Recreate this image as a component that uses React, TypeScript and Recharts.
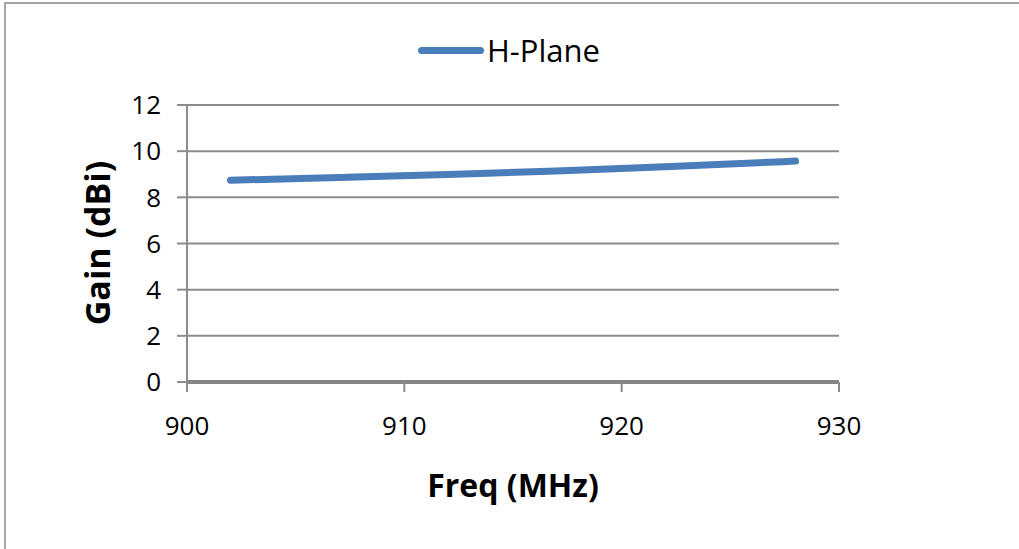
import { LineChart, Line, XAxis, YAxis, CartesianGrid } from "recharts";

// frequency (MHz) and H-plane gain (dBi)
const FREQS = [902, 907, 912, 917, 922, 928];
const GAIN = [8.74, 8.86, 8.99, 9.14, 9.32, 9.57];
const X_TICKS = [900, 910, 920, 930];
const Y_TICKS = [0, 2, 4, 6, 8, 10, 12];

const data = FREQS.map((f, i) => ({ freq: f, gain: GAIN[i] }));

const FONT = "'Open Sans', 'DejaVu Sans', sans-serif";
const GRID = "#8c8c8c";
const BLUE = "#4a7ebb";

export default function App() {
    return (
        <div style={{ position: "absolute", left: 0, top: 0, width: 1019, height: 549, overflow: "hidden", background: "#fff", fontFamily: FONT }}>
            <div style={{ position: "absolute", left: 4, top: 2, width: 1040, height: 570, border: "2px solid #a6a6a6" }} />

            {/* legend */}
            <div style={{ position: "absolute", left: 418, top: 28, height: 44, display: "flex", alignItems: "center" }}>
                <span style={{ display: "inline-block", width: 66, height: 7, borderRadius: 4, background: BLUE }} />
                <span style={{ fontSize: 31, color: "#000", marginLeft: 3 }}>H-Plane</span>
            </div>

            {/* axis titles */}
            <div style={{ position: "absolute", left: 97, top: 243, transform: "translate(-50%, -50%) rotate(-90deg)", fontSize: 34, fontWeight: 700, whiteSpace: "nowrap" }}>
                Gain (dBi)
            </div>
            <div style={{ position: "absolute", left: 513, top: 484, transform: "translate(-50%, -50%)", fontSize: 32, fontWeight: 700, whiteSpace: "nowrap" }}>
                Freq (MHz)
            </div>

            <div style={{ position: "absolute", left: 0, top: 0 }}>
                <LineChart width={1019} height={549} data={data} margin={{ top: 105, right: 180, bottom: 107, left: 107 }}>
                    <CartesianGrid vertical={false} stroke={GRID} strokeWidth={2} horizontalValues={Y_TICKS} />
                    <XAxis
                        dataKey="freq"
                        type="number"
                        domain={[900, 930]}
                        ticks={X_TICKS}
                        height={60}
                        tickSize={10}
                        tickMargin={25}
                        stroke={GRID}
                        axisLine={{ stroke: "#858585", strokeWidth: 4 }}
                        tickLine={{ stroke: GRID, strokeWidth: 2 }}
                        tick={{ fill: "#000", fontSize: 26, fontFamily: FONT }}
                    />
                    <YAxis
                        type="number"
                        domain={[0, 12]}
                        ticks={Y_TICKS}
                        width={80}
                        tickSize={10}
                        tickMargin={16}
                        axisLine={{ stroke: GRID, strokeWidth: 2 }}
                        tickLine={{ stroke: GRID, strokeWidth: 2 }}
                        tick={{ fill: "#000", fontSize: 26, fontFamily: FONT }}
                    />
                    <Line
                        type="monotone"
                        dataKey="gain"
                        stroke={BLUE}
                        strokeWidth={7}
                        strokeLinecap="round"
                        dot={false}
                        isAnimationActive={false}
                    />
                </LineChart>
            </div>
        </div>
    );
}
